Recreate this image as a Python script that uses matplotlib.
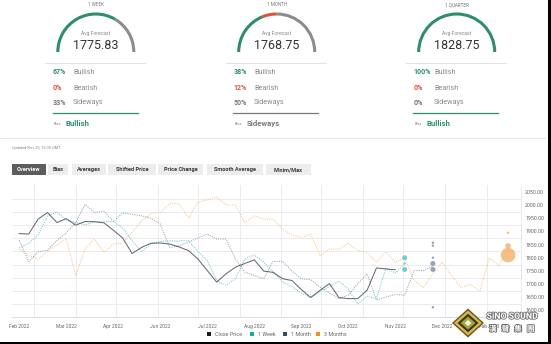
import matplotlib

matplotlib.use("Agg")
import matplotlib.pyplot as plt
import matplotlib.patheffects as pe
import numpy as np
import pandas as pd
from matplotlib.patches import Arc, Polygon, Rectangle

plt.rcParams["font.family"] = ["Roboto", "DejaVu Sans"]

W, H = 551, 344

# --- poll summary ---
horizons = ["1 WEEK", "1 MONTH", "1 QUARTER"]
avg_forecast = [1775.83, 1768.75, 1828.75]
bullish = [67, 38, 100]
bearish = [0, 12, 0]
sideways = [33, 50, 0]
bias = ["Bullish", "Sideways", "Bullish"]
updated = "Updated Nov 25, 15:00 GMT"
tabs = ["Overview", "Bias", "Averages", "Shifted Price", "Price Change", "Smooth Average", "Minim/Max"]

# --- weekly series (first point 2022-02-18) ---
close_price = [1892, 1890, 1947, 1972, 1934, 1949, 1924, 1938, 1937, 1933, 1905, 1875, 1816,
               1839, 1855, 1856, 1852, 1841, 1827, 1795, 1751, 1707, 1739, 1764, 1778, 1792,
               1749, 1744, 1720, 1713, 1679, 1648, 1676, 1701, 1648, 1644, 1644, 1676, 1761,
               1757, 1754]
week_avg = [1837, 1854, 1887, 1959, 1974, 1943, 1934, 1925, 1937, 1937, 1938, 1913, 1865,
            1823, 1852, 1862, 1864, 1864, 1865, 1824, 1789, 1713, 1695, 1720, 1795, 1811,
            1783, 1747, 1707, 1690, 1665, 1650, 1670, 1690, 1711, 1680, 1623, 1653, 1644,
            1761, 1741, 1776]
month_avg = [1866, 1785, 1823, 1828, 1866, 1895, 1934, 2003, 1971, 1978, 1938, 1971, 1965,
             1960, 1950, 1928, 1839, 1845, 1860, 1875, 1890, 1871, 1871, 1795, 1745, 1732,
             1720, 1786, 1786, 1750, 1720, 1716, 1688, 1665, 1644, 1657, 1700, 1739, 1638,
             1650, 1660, 1657, 1751, 1751, 1769]
quarter_avg = [1833, 1808, 1795, 1824, 1848, 1873, 1732, 1833, 1871, 1820, 1852, 1856, 1896,
               1940, 1968, 1972, 2006, 2006, 1951, 2012, 2020, 2031, 2001, 2001, 1934, 1959,
               1947, 1947, 1909, 1887, 1877, 1890, 1808, 1833, 1833, 1855, 1827, 1820, 1783,
               1822, 1783, 1799, 1713, 1686, 1739, 1783, 1732, 1686, 1698, 1672, 1799, 1770,
               1829]

# individual forecasts at each horizon: value, bubble radius (px)
week_points = [1800, 1778, 1755]
week_radius = [2.5, 1.2, 2.5]
month_points = [1857, 1846, 1800, 1778, 1755, 1611]
month_radius = [1.2, 1.2, 1.2, 2.5, 2.5, 1.2]
quarter_points = [1895, 1845, 1810]
quarter_radius = [1.3, 2.8, 7.3]

weeks = pd.date_range("2022-02-18", periods=len(quarter_avg), freq="7D")

GREEN = "#2f8c70"
RED = "#e05238"
GREY = "#8c8c8c"
C_CLOSE, C_WEEK, C_MONTH, C_QUARTER = "#1b1b26", "#17a7a7", "#2e4c6d", "#f0901e"

fig = plt.figure(figsize=(W / 100, H / 100), dpi=100)
fig.patch.set_facecolor("white")

# ---------------- chart ----------------
ax = fig.add_axes([12 / W, 1 - 317 / H, (521 - 12) / W, (317 - 185) / H])
px_per_day = 9.4 / 7
ax.set_xlim(weeks[0] - pd.Timedelta(days=7.3 / px_per_day),
            weeks[0] + pd.Timedelta(days=(521 - 19.3) / px_per_day))
ax.set_ylim(1574, 2077)

for m in pd.date_range("2022-03-01", "2023-02-01", freq="MS"):
    ax.axvline(m, color="#ececf0", lw=0.7, zorder=0)
for v in range(1650, 2051, 50):
    ax.axhline(v - 26, color="#ececf0", lw=0.7, zorder=0)

dots = (0, (1, 1.2))
ax.plot(weeks[:len(quarter_avg)], quarter_avg, color=C_QUARTER, alpha=0.5, lw=0.75, ls=dots)
ax.plot(weeks[:len(month_avg)], month_avg, color=C_MONTH, alpha=0.5, lw=0.75, ls=dots)
ax.plot(weeks[:len(week_avg)], week_avg, color=C_WEEK, alpha=0.6, lw=0.75, ls=dots)
ax.plot(weeks[:len(close_price)], close_price, color=C_CLOSE, alpha=0.65, lw=0.75)


def bubbles(idx, vals, radii, color, alpha):
    s = [(2 * r * 0.72) ** 2 for r in radii]
    ax.scatter([weeks[idx]] * len(vals), vals, s=s, color=color, alpha=alpha, lw=0, zorder=5)


bubbles(len(week_avg) - 1, week_points, week_radius, "#5ec6c9", 0.85)
bubbles(len(month_avg) - 1, month_points, month_radius, "#8493ab", 0.85)
bubbles(len(quarter_avg) - 1, quarter_points, quarter_radius, "#f2b06a", 0.8)

ax.set_xticks(weeks[0:51:5])
ax.set_xticklabels([d.strftime("%b %Y") for d in weeks[0:51:5]], fontsize=3.5, color="#666666")
ax.tick_params(axis="x", length=0, pad=5)
ax.yaxis.tick_right()
ax.set_yticks(range(1600, 2051, 50))
ax.set_yticklabels([f"{v:.2f}" for v in range(1600, 2051, 50)], fontsize=3.8, color="#666666")
ax.tick_params(axis="y", length=0, pad=3)
for side in ["top", "left"]:
    ax.spines[side].set_visible(False)
ax.spines["bottom"].set_color("#d8dde6")
ax.spines["bottom"].set_linewidth(0.8)
ax.spines["right"].set_color("#e6e6ea")
ax.spines["right"].set_linewidth(0.6)

# ---------------- overlay in pixel coordinates ----------------
ov = fig.add_axes([0, 0, 1, 1])
ov.set_xlim(0, W)
ov.set_ylim(H, 0)
ov.axis("off")
ov.patch.set_visible(False)

centers = [95.8, 276.7, 456.7]
for i, cx in enumerate(centers):
    cy, r = 52, 38
    ov.text(cx, 5, horizons[i], ha="center", va="center", fontsize=3.3, color="#777777")
    # arc: bullish (left) -> bearish -> sideways (right), screen angles 180 -> 0
    a = 180.0
    for pct, col in [(bullish[i], GREEN), (bearish[i], RED), (sideways[i], GREY)]:
        span = 1.8 * pct
        if span > 0:
            lo, hi = a - span, a
            ov.add_patch(Arc((cx, cy), 2 * r, 2 * r, theta1=360 - hi, theta2=360 - lo,
                             color=col, lw=2.2))
        a -= span
    ov.text(cx, 34, "Avg Forecast", ha="center", va="center", fontsize=3.6, color="#888888")
    ov.text(cx, 45.5, f"{avg_forecast[i]:.2f}", ha="center", va="center", fontsize=9,
            color="#333333")
    ov.plot([cx - 50.8, cx + 49.2], [62.7, 62.7], color="#e2e2e2", lw=0.7)
    rows = [(bullish[i], "Bullish", GREEN), (bearish[i], "Bearish", RED),
            (sideways[i], "Sideways", "#777777")]
    for j, (pct, lab, col) in enumerate(rows):
        y = [72.3, 88.3, 102.7][j]
        ov.text(cx - 43.3, y, f"{pct}%", ha="left", va="center", fontsize=5, color=col,
                fontweight="bold")
        ov.text(cx - 22.8, y, lab, ha="left", va="center", fontsize=5.2, color="#8a8a8a")
    bcol = GREEN if bias[i] == "Bullish" else (RED if bias[i] == "Bearish" else "#7a7a7a")
    ov.plot([cx - 43.3, cx + 41.7], [113.3, 113.3], color=bcol, lw=0.9)
    ov.text(cx - 42.5, 123.8, "Bias", ha="left", va="center", fontsize=2.8, color="#888888")
    ov.text(cx - 29.8, 123.3, bias[i], ha="left", va="center", fontsize=5.6, color=bcol,
            fontweight="bold")

ov.plot([0, 545], [138.3, 138.3], color="#e6e6e6", lw=0.7)
ov.text(11.7, 148.3, updated, ha="left", va="center", fontsize=2.8, color="#888888")

tab_x = [(11.7, 45.7), (48.0, 68.3), (71.7, 106.0), (108.3, 155.7), (158.3, 203.3),
         (207.3, 263.3), (266.0, 311.0)]
for k, name in enumerate(tabs):
    x0, x1 = tab_x[k]
    active = k == 0
    ov.add_patch(Rectangle((x0, 164.3), x1 - x0, 10.7, color="#5c5c5c" if active else "#ededed",
                           lw=0))
    ov.text((x0 + x1) / 2, 169.8, name, ha="center", va="center", fontsize=4.1,
            color="white" if active else "#3a3a3a", fontweight="bold")

# legend
legend = [("Close Price", C_CLOSE), ("1 Week", C_WEEK), ("1 Month", C_MONTH), ("3 Months", C_QUARTER)]
lx = [206.7, 250.0, 282.7, 315.7]
for (name, col), x in zip(legend, lx):
    ov.add_patch(Rectangle((x, 332.3), 4, 4, color=col, lw=0))
    ov.text(x + 8, 334.3, name, ha="left", va="center", fontsize=3.9, color="#666666")

# watermark logo
cx, cy = 468, 323
for hw, hh, col in [(16, 14.5, "#6b5420"), (14, 12.5, "#d8b84a"), (10.5, 9.3, "#3d3113"),
                    (7.5, 6.6, "#9aa83c"), (3.5, 3.1, "#f2f0da")]:
    ov.add_patch(Polygon([(cx, cy - hh), (cx + hw, cy), (cx, cy + hh), (cx - hw, cy)],
                         closed=True, color=col, lw=0))
stroke = [pe.withStroke(linewidth=1.2, foreground="#6a6a6a")]
ov.text(512, 316.3, "SiNO SOUND", ha="center", va="center", fontsize=6.3, color="white",
        fontweight="bold", path_effects=stroke)
ov.text(512, 328.5, "漢   聲   集   團", ha="center", va="center", fontsize=5.4, color="white",
        family=["Noto Sans CJK TC", "DejaVu Sans"], fontweight="bold", path_effects=stroke)

ov.add_patch(Rectangle((0, 341.5), W, 3, color="black", lw=0))
ov.add_patch(Rectangle((547.5, 0), 4, H, color="black", lw=0))

fig.savefig("out.png", dpi=100)
